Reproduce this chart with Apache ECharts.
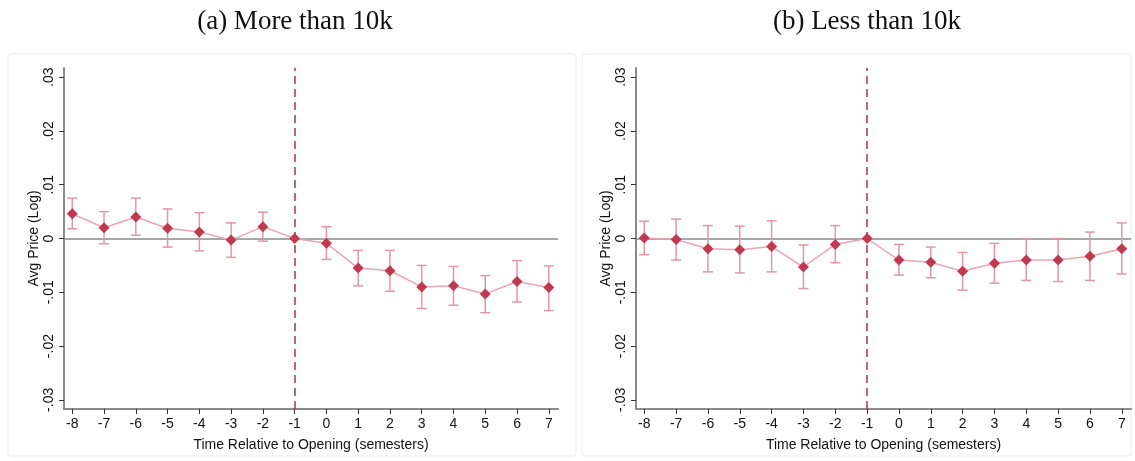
<!DOCTYPE html>
<html><head><meta charset="utf-8">
<script src="https://cdn.jsdelivr.net/npm/echarts@6/dist/echarts.min.js"></script>
<style>html,body{margin:0;padding:0;background:#fff}#c{width:1135px;height:461px}</style>
</head><body><div id="c"></div>
<script>
const periods = [-8,-7,-6,-5,-4,-3,-2,-1,0,1,2,3,4,5,6,7];
const yTicks = [-0.03,-0.02,-0.01,0,0.01,0.02,0.03];
const titleA = "(a) More than 10k";
const titleB = "(b) Less than 10k";
// Panel (a): More than 10k
const estA = [0.0046,0.0020,0.0040,0.0019,0.0012,-0.0003,0.0022,0,-0.0009,-0.0055,-0.0060,-0.0090,-0.0088,-0.0103,-0.0080,-0.0091];
const hiA  = [0.0075,0.0050,0.0075,0.0055,0.0048,0.0029,0.0049,0,0.0022,-0.0022,-0.0022,-0.0050,-0.0052,-0.0069,-0.0041,-0.0051];
const loA  = [0.0018,-0.0010,0.0006,-0.0016,-0.0023,-0.0035,-0.0005,0,-0.0039,-0.0088,-0.0098,-0.0130,-0.0124,-0.0138,-0.0118,-0.0134];
// Panel (b): Less than 10k
const estB = [0.0001,-0.0002,-0.0019,-0.0021,-0.0015,-0.0053,-0.0011,0,-0.0040,-0.0044,-0.0061,-0.0046,-0.0040,-0.0040,-0.0033,-0.0019];
const hiB  = [0.0032,0.0036,0.0024,0.0023,0.0033,-0.0012,0.0024,0,-0.0011,-0.0016,-0.0026,-0.0009,-0.0001,0.0000,0.0012,0.0029];
const loB  = [-0.0030,-0.0040,-0.0062,-0.0064,-0.0062,-0.0093,-0.0045,0,-0.0068,-0.0073,-0.0096,-0.0083,-0.0078,-0.0080,-0.0078,-0.0066];

const AX = '#8a8a8a';
const MARK = '#c0394f';
const LINE = '#eba5b0';
const ERR = '#e297a4';
const FONT = '"Liberation Sans", Arial, sans-serif';
const SERIF = '"Liberation Serif", "Times New Roman", serif';

function fmtY(v){
  if (Math.abs(v) < 1e-9) return '0';
  const s = Math.abs(v).toFixed(2).replace(/^0/, '');
  return (v < 0 ? '-' : '') + s;
}

function xAxis(i){
  return {
    type:'value', gridIndex:i, min:-8.26, max:7.29,
    name:'Time Relative to Opening (semesters)', nameLocation:'middle', nameGap:29,
    nameTextStyle:{fontFamily:FONT, fontSize:14, color:'#111'},
    axisLine:{onZero:false, lineStyle:{color:AX, width:2}},
    axisTick:{show:true, length:5, lineStyle:{color:'#333', width:1}, customValues:periods},
    axisLabel:{fontFamily:FONT, fontSize:14, color:'#111', margin:8, customValues:periods, formatter:v=>String(v)},
    splitLine:{show:false}
  };
}
function yAxis(i){
  return {
    type:'value', gridIndex:i, min:-0.0317, max:0.0317,
    name:'Avg Price (Log)', nameLocation:'middle', nameGap:22, nameRotate:90,
    nameTextStyle:{fontFamily:FONT, fontSize:14, color:'#111'},
    axisLine:{onZero:false, lineStyle:{color:AX, width:2}},
    axisTick:{show:true, length:5, lineStyle:{color:'#333', width:1}, customValues:yTicks},
    axisLabel:{fontFamily:FONT, fontSize:14, color:'#111', rotate:90, margin:8, customValues:yTicks, formatter:fmtY},
    splitLine:{show:false}
  };
}

function errSeries(i, lo, hi){
  return {
    type:'custom', xAxisIndex:i, yAxisIndex:i, z:2,
    data: periods.map((p,k)=>[p, lo[k], hi[k]]),
    renderItem:(params, api)=>{
      const x = api.value(0);
      const a = api.coord([x, api.value(1)]);
      const b = api.coord([x, api.value(2)]);
      if (Math.abs(a[1]-b[1]) < 0.5) return null;
      const w = 5;
      const st = {stroke:ERR, lineWidth:1.5};
      return {type:'group', children:[
        {type:'line', shape:{x1:a[0], y1:a[1], x2:b[0], y2:b[1]}, style:st},
        {type:'line', shape:{x1:a[0]-w, y1:a[1], x2:a[0]+w, y2:a[1]}, style:st},
        {type:'line', shape:{x1:b[0]-w, y1:b[1], x2:b[0]+w, y2:b[1]}, style:st}
      ]};
    }
  };
}
function estSeries(i, est){
  return {
    type:'line', xAxisIndex:i, yAxisIndex:i, z:3,
    data: periods.map((p,k)=>[p, est[k]]),
    symbol:'diamond', symbolSize:11,
    itemStyle:{color:MARK},
    lineStyle:{color:LINE, width:1.5},
    markLine:{
      silent:true, symbol:'none', label:{show:false}, z:1,
      data:[
        {yAxis:0, lineStyle:{color:AX, width:1.5, type:'solid'}},
        {xAxis:-1, lineStyle:{color:'#b3304b', width:1.5, type:[8,5]}}
      ]
    }
  };
}

const chart = echarts.init(document.getElementById('c'), null, {renderer:'canvas'});
chart.setOption({
  animation:false,
  backgroundColor:'#fff',
  title:[
    {text:titleA, left:290, top:3, textAlign:'center', textStyle:{fontFamily:SERIF, fontSize:27, fontWeight:'normal', color:'#111'}},
    {text:titleB, left:862, top:3, textAlign:'center', textStyle:{fontFamily:SERIF, fontSize:27, fontWeight:'normal', color:'#111'}}
  ],
  graphic:[
    {type:'rect', shape:{x:8, y:54, width:568, height:402, r:3}, style:{fill:'none', stroke:'#ececec', lineWidth:1}, z:-1},
    {type:'rect', shape:{x:582, y:54, width:549, height:402, r:3}, style:{fill:'none', stroke:'#ececec', lineWidth:1}, z:-1}
  ],
  grid:[
    {left:64, right:577, top:68, bottom:52},
    {left:636, right:4, top:68, bottom:52}
  ],
  xAxis:[xAxis(0), xAxis(1)],
  yAxis:[yAxis(0), yAxis(1)],
  series:[
    errSeries(0, loA, hiA), estSeries(0, estA),
    errSeries(1, loB, hiB), estSeries(1, estB)
  ]
});
</script></body></html>
